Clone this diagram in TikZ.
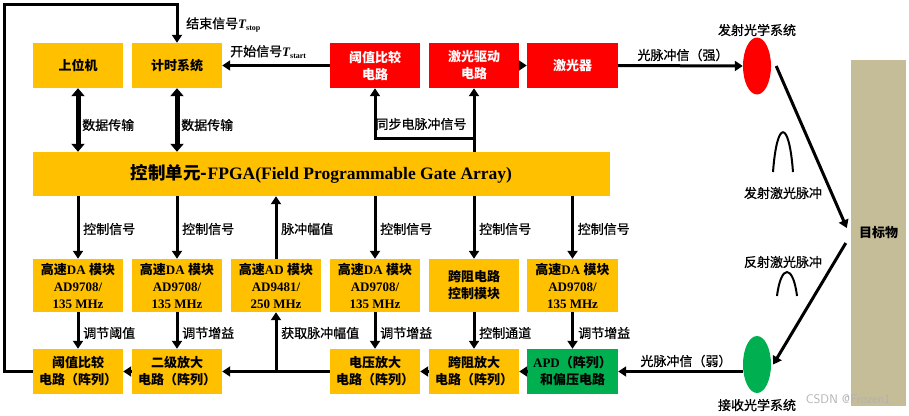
\documentclass[tikz,border=0pt]{standalone}
\usepackage{fontspec}
\setmainfont{Liberation Serif}
\newfontfamily\cjk{Noto Sans CJK SC}
\newfontfamily\cjkl{Noto Sans CJK SC}[FakeBold=0.8]
\usetikzlibrary{arrows.meta,shapes.geometric}
\definecolor{yel}{HTML}{FFC000}
\definecolor{redb}{HTML}{FF0000}
\definecolor{grn}{HTML}{00B050}
\definecolor{tanb}{HTML}{C4BD97}
\newcommand{\zh}[1]{{\cjk #1}}
\begin{document}
\begin{tikzpicture}[x=1pt,y=-1pt,
  box/.style={fill=yel, minimum width=90pt, minimum height=45pt, inner sep=0pt, align=center,
    font=\bfseries\fontsize{13}{17}\selectfont},
  tall/.style={box, minimum height=53pt},
  redbox/.style={box, fill=redb, text=white},
  lab/.style={inner sep=0pt, font=\fontsize{13}{15}\selectfont\cjkl},
  arr/.style={line width=3pt, -{Triangle[length=8pt,width=10pt]}},
  darr/.style={line width=5pt, {Triangle[length=8pt,width=13pt]}-{Triangle[length=8pt,width=13pt]}},
  pulse/.style={line width=2pt}]
\useasboundingbox (0,0) rectangle (909,415);
% row 1
\node[box] (host) at (78,65.5) {\zh{上位机}};
\node[box] (timer) at (177,65.5) {\zh{计时系统}};
\node[redbox] (thr) at (375,65.5) {\zh{阈值比较}\\\zh{电路}};
\node[redbox] (drv) at (474,65.5) {\zh{激光驱动}\\\zh{电路}};
\node[redbox, minimum width=91pt] (laser) at (572.5,65.5) {\zh{激光器}};
% FPGA
\node[box, minimum width=577pt, minimum height=44pt, font=\bfseries\fontsize{17.5}{19}\selectfont] (fpga) at (321.5,174)
  {\zh{控制单元-}FPGA(Field Programmable Gate Array)};
% row 3
\node[tall] (c1) at (78,285.5) {\zh{高速}DA \zh{模块}\\AD9708/\\135 MHz};
\node[tall] (c2) at (177,285.5) {\zh{高速}DA \zh{模块}\\AD9708/\\135 MHz};
\node[tall] (c3) at (276,285.5) {\zh{高速}AD \zh{模块}\\AD9481/\\250 MHz};
\node[tall] (c4) at (375,285.5) {\zh{高速}DA \zh{模块}\\AD9708/\\135 MHz};
\node[tall] (c5) at (474,285.5) {\zh{跨阻电路}\\\zh{控制模块}};
\node[tall, minimum width=91pt] (c6) at (572.5,285.5) {\zh{高速}DA \zh{模块}\\AD9708/\\135 MHz};
% row 4
\node[box] (ra) at (78,371.5) {\zh{阈值比较}\\\zh{电路（阵列）}};
\node[box] (rb) at (177,371.5) {\zh{二级放大}\\\zh{电路（阵列）}};
\node[box] (rd) at (375,371.5) {\zh{电压放大}\\\zh{电路（阵列）}};
\node[box] (re) at (474,371.5) {\zh{跨阻放大}\\\zh{电路（阵列）}};
\node[box, fill=grn, minimum width=91pt] (apd) at (572.5,371.5) {APD\zh{（阵列）}\\\zh{和偏压电路}};
% optics and target
\node[ellipse, fill=redb, minimum width=28pt, minimum height=57pt, inner sep=0pt] (tx) at (757,66) {};
\node[ellipse, fill=grn, minimum width=28pt, minimum height=57pt, inner sep=0pt] (rx) at (757,364.5) {};
\node[fill=tanb, minimum width=55pt, minimum height=346pt, inner sep=0pt, font=\bfseries\fontsize{13}{15}\selectfont] (tgt) at (878.5,233) {\zh{目标物}};
\node[lab] (ltx) at (757,30) {发射光学系统};
\node[lab] (lrx) at (757,405) {接收光学系统};
\node[lab] (lep) at (783,193) {发射激光脉冲};
\node[lab] (lrp) at (783,262) {反射激光脉冲};
% pulses
\draw[pulse] (773,172) .. controls (777,119) and (789,119) .. (793,172);
\draw[pulse] (777,296) .. controls (781,264) and (793,264) .. (797,296);
% data links
\draw[darr] (host.south) -- (host.south |- fpga.north);
\draw[darr] (timer.south) -- (timer.south |- fpga.north);
\node[lab, anchor=west] (ld1) at (82,125) {数据传输};
\node[lab, anchor=west] (ld2) at (181,125) {数据传输};
% control signals
\foreach \c in {c1,c2,c4,c5,c6}{
  \draw[arr] (\c.north |- fpga.south) -- (\c.north);
  \node[lab, anchor=west] at ([xshift=5pt]\c.north |- 0,229) {控制信号};
}
\draw[arr] (c3.north) -- (c3.north |- fpga.south);
\node[lab, anchor=west] (lamp) at ([xshift=5pt]c3.north |- 0,229) {脉冲幅值};
% row 3 -> row 4
\draw[arr] (c1.south) -- (ra.north);
\draw[arr] (c2.south) -- (rb.north);
\draw[arr] (c4.south) -- (rd.north);
\draw[arr] (c5.south) -- (re.north);
\draw[arr] (c6.south) -- (apd.north);
\node[lab, anchor=west] (l1) at (83,333) {调节阈值};
\node[lab, anchor=west] (l2) at (182,333) {调节增益};
\node[lab, anchor=west] (l3) at (281,333) {获取脉冲幅值};
\node[lab, anchor=west] (l4) at (380,333) {调节增益};
\node[lab, anchor=west] (l5) at (479,333) {控制通道};
\node[lab, anchor=west] (l6) at (578,333) {调节增益};
% row 4 chain
\draw[arr] (apd.west) -- (re.east);
\draw[arr] (re.west) -- (rd.east);
\draw[arr] (rd.west) -- (rb.east);
\draw[arr] (rb.west) -- (ra.east);
\draw[arr] (c3.south |- rb.east) -- (c3.south);
% feedback stop
\coordinate (fb1) at (4,371.5);
\coordinate (fb2) at (177,4);
\draw[arr] (ra.west) -- (fb1) |- (fb2) -- (timer.north);
\node[lab, anchor=west] (lstop) at (186,25) {结束信号\rmfamily\bfseries\itshape T\raisebox{-2.5pt}{\upshape\fontsize{8}{8}\selectfont stop}};
% start
\draw[arr] (thr.west) -- (timer.east);
\node[lab, anchor=west] (lstart) at (230,52) {开始信号\rmfamily\bfseries\itshape T\raisebox{-2.5pt}{\upshape\fontsize{8}{8}\selectfont start}};
% sync
\coordinate (sy) at (474,138);
\draw[arr] (fpga.north -| drv.south) -- (drv.south);
\draw[arr] (sy) -| (thr.south);
\node[lab] (lsync) at (421,124) {同步电脉冲信号};
% laser path
\draw[arr] (drv.east) -- (laser.west);
\draw[arr] (laser.east) -- (tx.west);
\node[lab] (lstrong) at (683,55) {光脉冲信（强）};
\draw[arr] ([xshift=5pt]tx.east) -- ([xshift=-4pt,yshift=5pt]tgt.west);
\draw[arr] ([xshift=-5pt,yshift=-10pt]tgt.west) -- ([xshift=2pt]rx.east);
\draw[arr] (rx.west |- apd.east) -- (apd.east);
\node[lab] (lweak) at (686,361) {光脉冲信（弱）};
% watermark
\node[font=\sffamily\fontsize{12.5}{12.5}\selectfont, text=gray!60] (wm) at (848,399) {CSDN @Frozen1};
\end{tikzpicture}
\end{document}
